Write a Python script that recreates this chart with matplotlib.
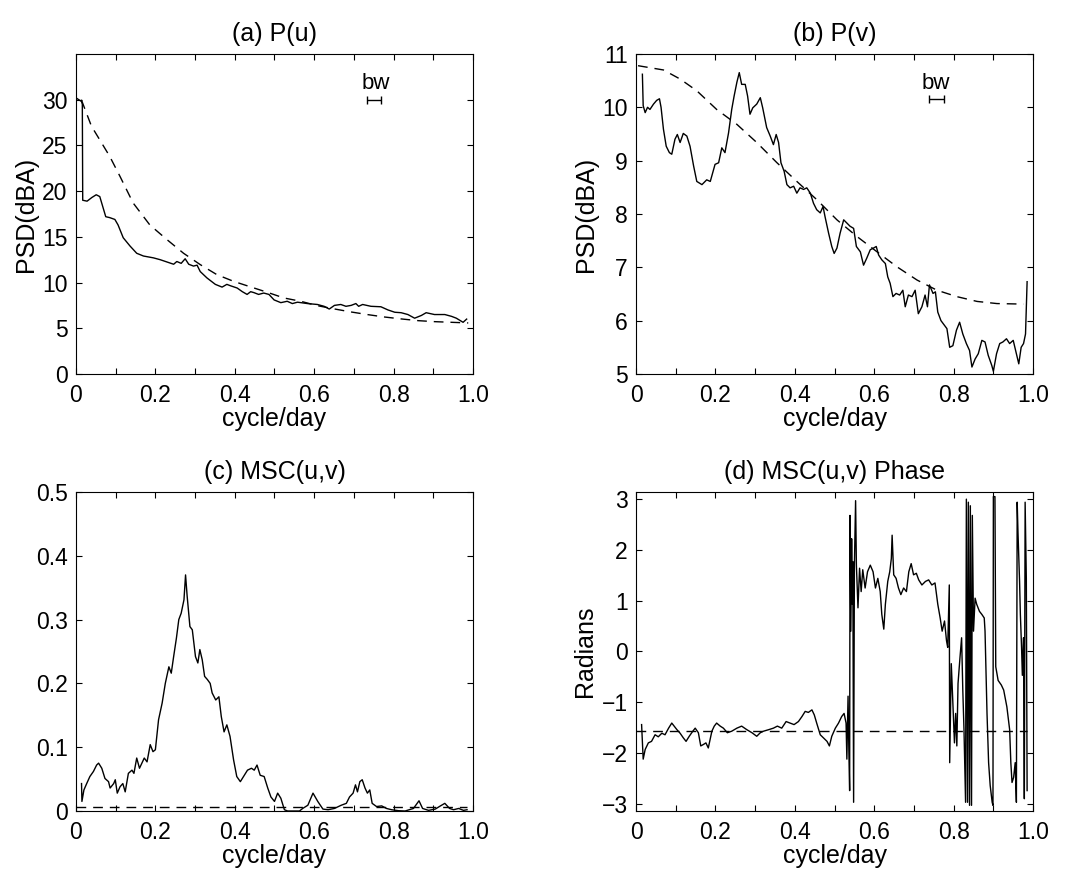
import numpy as np
import matplotlib
matplotlib.use('Agg')
import matplotlib.pyplot as plt

plt.rcParams['font.family'] = ['Liberation Sans', 'DejaVu Sans']
plt.rcParams['font.size'] = 15

# (a) P(u)
pu_f = [0.0, 0.014, 0.016, 0.017, 0.028, 0.04, 0.051, 0.06, 0.075, 0.085, 0.098, 0.106, 0.119, 0.136,
        0.153, 0.17, 0.195, 0.212, 0.229, 0.246, 0.254, 0.265, 0.275, 0.284, 0.296, 0.305, 0.313, 0.33,
        0.351, 0.368, 0.38, 0.389, 0.406, 0.419, 0.431, 0.44, 0.448, 0.46, 0.473, 0.486, 0.499, 0.516,
        0.532, 0.545, 0.558, 0.583, 0.608, 0.625, 0.638, 0.651, 0.667, 0.68, 0.693, 0.705, 0.712,
        0.722, 0.743, 0.768, 0.786, 0.803, 0.819, 0.836, 0.853, 0.87, 0.882, 0.903, 0.929, 0.946,
        0.958, 0.975, 0.984]
pu_db = [30.2, 29.8, 29.5, 19.0, 18.9, 19.3, 19.6, 19.4, 17.2, 17.1, 16.9, 16.3, 14.9, 14.0,
         13.2, 12.9, 12.7, 12.5, 12.25, 12.0, 12.3, 12.1, 12.6, 12.0, 11.8, 11.9, 11.2, 10.5,
         9.8, 9.5, 9.8, 9.65, 9.4, 9.0, 8.7, 9.0, 8.9, 8.7, 8.85, 8.7, 8.1, 7.8,
         7.95, 7.7, 7.85, 7.7, 7.6, 7.4, 7.1, 7.5, 7.6, 7.4, 7.5, 7.7, 7.4,
         7.6, 7.4, 7.35, 7.0, 6.75, 6.7, 6.5, 6.1, 6.4, 6.7, 6.5, 6.5, 6.3,
         6.1, 5.65, 6.0]
pu_fit_f = [0.0135, 0.039, 0.06, 0.085, 0.111, 0.144, 0.186, 0.229, 0.271, 0.313, 0.355, 0.397,
            0.44, 0.482, 0.524, 0.566, 0.608, 0.651, 0.693, 0.735, 0.777, 0.819, 0.862, 0.904,
            0.946, 0.988]
pu_fit = [30.0, 27.1, 25.6, 23.8, 21.6, 18.7, 16.3, 14.7, 13.2, 11.96, 10.86, 10.13,
          9.52, 8.93, 8.31, 7.95, 7.47, 7.11, 6.78, 6.49, 6.23, 6.02, 5.83, 5.72,
          5.65, 5.58]

# (b) P(v)
pv_f = [0.016, 0.018, 0.023, 0.029, 0.035, 0.044, 0.052, 0.059, 0.063, 0.069, 0.076, 0.084, 0.09,
        0.098, 0.104, 0.111, 0.119, 0.128, 0.136, 0.145, 0.153, 0.166, 0.178, 0.187, 0.199, 0.208,
        0.216, 0.224, 0.233, 0.241, 0.247, 0.254, 0.26, 0.266, 0.275, 0.281, 0.287, 0.294, 0.304,
        0.313, 0.319, 0.329, 0.338, 0.346, 0.353, 0.359, 0.365, 0.373, 0.38, 0.388, 0.397, 0.405,
        0.413, 0.422, 0.43, 0.439, 0.447, 0.455, 0.464, 0.471, 0.476, 0.485, 0.493, 0.499, 0.506,
        0.514, 0.523, 0.531, 0.539, 0.548, 0.555, 0.565, 0.573, 0.581, 0.59, 0.598, 0.605, 0.611,
        0.619, 0.628, 0.634, 0.64, 0.647, 0.655, 0.664, 0.672, 0.678, 0.686, 0.695, 0.703, 0.711,
        0.72, 0.728, 0.734, 0.739, 0.748, 0.754, 0.76, 0.768, 0.777, 0.783, 0.79, 0.798, 0.807,
        0.815, 0.823, 0.832, 0.84, 0.846, 0.854, 0.862, 0.871, 0.879, 0.887, 0.896, 0.9, 0.908,
        0.916, 0.924, 0.933, 0.941, 0.95, 0.958, 0.964, 0.97, 0.976, 0.981, 0.985]
pv_db = [10.62, 10.03, 9.9, 10.0, 9.96, 10.06, 10.13, 10.16, 10.0, 9.59, 9.27, 9.15, 9.12,
         9.4, 9.49, 9.34, 9.51, 9.46, 9.27, 8.9, 8.61, 8.55, 8.64, 8.61, 8.93, 8.96,
         9.24, 9.15, 9.52, 9.96, 10.21, 10.47, 10.65, 10.43, 10.43, 10.21, 9.87, 9.99, 10.06,
         10.18, 9.99, 9.62, 9.46, 9.3, 9.49, 9.34, 8.96, 8.8, 8.55, 8.49, 8.52, 8.39,
         8.49, 8.46, 8.49, 8.39, 8.2, 8.08, 8.02, 8.14, 7.95, 7.64, 7.39, 7.26, 7.36,
         7.64, 7.89, 7.83, 7.77, 7.73, 7.39, 7.29, 7.04, 7.17, 7.33, 7.36, 7.39, 7.23,
         7.14, 7.07, 6.82, 6.7, 6.45, 6.51, 6.48, 6.57, 6.26, 6.48, 6.45, 6.57, 6.13,
         6.26, 6.48, 6.26, 6.67, 6.51, 6.54, 6.16, 6.0, 5.91, 5.85, 5.5, 5.53, 5.82,
         5.97, 5.75, 5.57, 5.44, 5.13, 5.28, 5.38, 5.63, 5.6, 5.35, 5.16, 5.05, 5.38,
         5.57, 5.6, 5.66, 5.57, 5.63, 5.38, 5.19, 5.5, 5.57, 5.75, 6.73]
pv_fit_f = [0.005, 0.069, 0.111, 0.153, 0.203, 0.254, 0.304, 0.355, 0.405, 0.455, 0.506, 0.556,
            0.607, 0.657, 0.708, 0.758, 0.808, 0.859, 0.909, 0.976]
pv_fit = [10.78, 10.7, 10.53, 10.31, 9.96, 9.68, 9.34, 8.96, 8.61, 8.27, 7.89, 7.58,
          7.29, 7.01, 6.76, 6.57, 6.45, 6.36, 6.32, 6.31]

# (c) MSC(u,v)
msc_f = [0.014, 0.015, 0.02, 0.027, 0.035, 0.044, 0.052, 0.057, 0.065, 0.073, 0.082, 0.086, 0.095,
         0.099, 0.104, 0.111, 0.118, 0.124, 0.132, 0.141, 0.146, 0.153, 0.16, 0.166, 0.172, 0.179,
         0.187, 0.194, 0.2, 0.208, 0.217, 0.225, 0.234, 0.24, 0.246, 0.253, 0.259, 0.265, 0.272,
         0.276, 0.28, 0.287, 0.293, 0.301, 0.307, 0.312, 0.318, 0.324, 0.331, 0.338, 0.343, 0.352,
         0.36, 0.366, 0.373, 0.38, 0.388, 0.397, 0.405, 0.414, 0.422, 0.432, 0.442, 0.449, 0.456,
         0.464, 0.474, 0.483, 0.491, 0.5, 0.508, 0.516, 0.525, 0.533, 0.563, 0.571, 0.584, 0.597,
         0.609, 0.622, 0.635, 0.651, 0.668, 0.681, 0.689, 0.698, 0.704, 0.709, 0.715, 0.721, 0.728,
         0.734, 0.74, 0.746, 0.757, 0.77, 0.782, 0.795, 0.812, 0.829, 0.85, 0.864, 0.873, 0.888,
         0.905, 0.918, 0.929, 0.941, 0.951, 0.964, 0.976, 0.985]
msc = [0.043, 0.015, 0.033, 0.043, 0.054, 0.062, 0.072, 0.075, 0.067, 0.051, 0.046, 0.036, 0.043,
       0.049, 0.028, 0.038, 0.043, 0.03, 0.059, 0.064, 0.059, 0.083, 0.067, 0.075, 0.083, 0.077,
       0.104, 0.093, 0.096, 0.143, 0.169, 0.2, 0.226, 0.216, 0.242, 0.271, 0.3, 0.31, 0.331,
       0.37, 0.337, 0.289, 0.284, 0.242, 0.232, 0.253, 0.237, 0.211, 0.206, 0.2, 0.185, 0.174,
       0.179, 0.148, 0.124, 0.135, 0.117, 0.08, 0.054, 0.046, 0.054, 0.064, 0.067, 0.064, 0.072,
       0.056, 0.054, 0.036, 0.022, 0.015, 0.028, 0.02, 0.002, 0.0, 0.0, 0.004, 0.009, 0.028,
       0.015, 0.003, 0.002, 0.004, 0.009, 0.012, 0.022, 0.028, 0.041, 0.03, 0.046, 0.049, 0.036,
       0.028, 0.033, 0.012, 0.007, 0.008, 0.004, 0.002, 0.0005, 0.0, 0.004, 0.016, 0.004, 0.001,
       0.003, 0.008, 0.012, 0.004, 0.002, 0.004, 0.001, 0.002]
msc_level = 0.007

# (d) MSC(u,v) Phase
ph_f = [0.014, 0.018, 0.023, 0.031, 0.039, 0.048, 0.056, 0.065, 0.073, 0.082, 0.09, 0.096, 0.103,
        0.111, 0.119, 0.126, 0.134, 0.143, 0.149, 0.157, 0.163, 0.17, 0.176, 0.182, 0.191, 0.197,
        0.203, 0.212, 0.22, 0.23, 0.241, 0.254, 0.266, 0.279, 0.292, 0.304, 0.313, 0.321, 0.334,
        0.346, 0.356, 0.367, 0.378, 0.388, 0.398, 0.409, 0.418, 0.426, 0.434, 0.443, 0.449, 0.455,
        0.464, 0.472, 0.481, 0.487, 0.493, 0.502, 0.51, 0.518, 0.524, 0.529, 0.531, 0.534, 0.536,
        0.538, 0.539, 0.541, 0.543, 0.545, 0.546, 0.548, 0.55, 0.553, 0.555, 0.559, 0.563, 0.567,
        0.571, 0.577, 0.583, 0.59, 0.597, 0.603, 0.609, 0.615, 0.619, 0.624, 0.628, 0.634, 0.639,
        0.643, 0.645, 0.649, 0.655, 0.661, 0.667, 0.674, 0.681, 0.687, 0.693, 0.699, 0.706, 0.712,
        0.72, 0.729, 0.737, 0.745, 0.753, 0.76, 0.766, 0.771, 0.777, 0.782, 0.785, 0.789, 0.79,
        0.794, 0.798, 0.802, 0.805, 0.808, 0.811, 0.816, 0.82, 0.823, 0.826, 0.83, 0.832, 0.835,
        0.837, 0.84, 0.842, 0.845, 0.847, 0.85, 0.854, 0.858, 0.865, 0.871, 0.877, 0.879, 0.884,
        0.888, 0.892, 0.897, 0.899, 0.9, 0.904, 0.906, 0.912, 0.92, 0.926, 0.934, 0.941, 0.944,
        0.947, 0.951, 0.955, 0.958, 0.96, 0.962, 0.966, 0.968, 0.971, 0.973, 0.976, 0.978, 0.98,
        0.983, 0.985]
ph = [-1.44, -2.12, -1.93, -1.8, -1.77, -1.64, -1.68, -1.61, -1.64, -1.51, -1.41, -1.47, -1.54,
      -1.61, -1.7, -1.77, -1.67, -1.57, -1.51, -1.6, -1.86, -1.83, -1.8, -1.9, -1.57, -1.47,
      -1.41, -1.47, -1.51, -1.6, -1.57, -1.51, -1.47, -1.54, -1.6, -1.67, -1.6, -1.57, -1.54,
      -1.51, -1.47, -1.51, -1.38, -1.41, -1.44, -1.38, -1.28, -1.18, -1.2, -1.15, -1.25, -1.41,
      -1.64, -1.7, -1.77, -1.86, -1.67, -1.51, -1.41, -1.28, -1.22, -1.41, -2.12, -0.88, -1.93,
      -2.74, 2.68, 0.4, 2.22, 0.93, 1.77, -2.97, 1.7, 2.97, 1.7, 0.86, 1.64, 1.18,
      1.61, 1.25, 1.57, 1.7, 1.57, 1.25, 1.44, 1.18, 0.73, 0.44, 0.93, 1.38, 1.57,
      1.83, 2.29, 1.51, 1.44, 1.25, 1.12, 1.25, 1.18, 1.57, 1.73, 1.51, 1.54, 1.41,
      1.31, 1.38, 1.41, 1.31, 1.35, 0.93, 0.66, 0.4, 0.6, 0.21, 0.08, 1.31, -2.19,
      -0.24, -1.02, -1.8, -1.22, -1.86, -0.63, -0.11, 0.27, -0.76, -1.54, -2.97, 3.0, -2.97,
      2.94, -3.03, 2.87, -3.03, 2.68, 0.4, 1.05, 0.93, 0.79, 0.73, 0.66, 0.4, -1.22,
      -2.19, -2.64, -2.97, -3.03, 3.05, 3.05, -0.3, -0.57, -0.66, -0.76, -1.09, -1.54, -2.19,
      -2.58, -2.48, -2.19, -2.97, 2.94, 2.35, 1.38, 0.73, 0.08, -0.47, 0.27, -2.9, 2.94,
      1.44, -2.74]
ph_level = -np.pi / 2

xt = np.arange(0, 1.01, 0.1)
xtl = ['0', '', '0.2', '', '0.4', '', '0.6', '', '0.8', '', '1.0']

fig = plt.figure(figsize=(10.67, 8.76), dpi=100)
pos = {'a': [0.0712, 0.5731, 0.3721, 0.3653], 'b': [0.5961, 0.5731, 0.3721, 0.3653],
       'c': [0.0712, 0.0742, 0.3721, 0.3642], 'd': [0.5961, 0.0742, 0.3721, 0.3642]}
axs = {k: fig.add_axes(v) for k, v in pos.items()}

for ax in axs.values():
    ax.set_xlim(0, 1)
    ax.set_xticks(xt)
    ax.set_xticklabels(xtl)
    ax.tick_params(direction='in', top=True, right=True, length=4, width=0.8, labelsize=16.5)
    ax.tick_params(axis='x', pad=7)
    ax.tick_params(axis='y', pad=6)
    for s in ax.spines.values():
        s.set_linewidth(0.8)
    ax.set_xlabel('cycle/day', labelpad=0, fontsize=18)

dash = dict(color='k', lw=1.0, dashes=(7, 5))
solid = dict(color='k', lw=1.0)

ax = axs['a']
ax.plot(pu_f, pu_db, **solid)
ax.plot(pu_fit_f, pu_fit, **dash)
ax.set_ylim(0, 35)
ax.set_yticks(np.arange(0, 31, 5))
ax.set_ylabel('PSD(dBA)', labelpad=3, fontsize=18)
ax.set_title('(a) P(u)', pad=9)
ax.errorbar(0.751, 30.0, xerr=0.018, color='k', lw=1.0, capsize=3)
ax.text(0.754, 31.2, 'bw', ha='center', va='baseline', fontsize=16)

ax = axs['b']
ax.plot(pv_f, pv_db, **solid)
ax.plot(pv_fit_f, pv_fit, **dash)
ax.set_ylim(5, 11)
ax.set_yticks(np.arange(5, 12, 1))
ax.set_ylabel('PSD(dBA)', labelpad=3, fontsize=18)
ax.set_title('(b) P(v)', pad=9)
ax.errorbar(0.757, 10.15, xerr=0.018, color='k', lw=1.0, capsize=3)
ax.text(0.754, 10.35, 'bw', ha='center', va='baseline', fontsize=16)

ax = axs['c']
ax.plot(msc_f, msc, **solid)
ax.plot([0, 0.985], [msc_level, msc_level], **dash)
ax.set_ylim(0, 0.5)
ax.set_yticks(np.arange(0, 0.51, 0.1))
ax.set_yticklabels(['0', '0.1', '0.2', '0.3', '0.4', '0.5'])
ax.set_title('(c) MSC(u,v)', pad=9)

ax = axs['d']
ax.plot(ph_f, ph, **solid)
ax.plot([0, 0.985], [ph_level, ph_level], **dash)
ax.set_ylim(-np.pi, np.pi)
ax.set_yticks(np.arange(-3, 4, 1))
ax.set_yticklabels(['\u22123', '\u22122', '\u22121', '0', '1', '2', '3'])
ax.set_ylabel('Radians', labelpad=3, fontsize=18)
ax.set_title('(d) MSC(u,v) Phase', pad=9)

fig.savefig('out.png', dpi=100)
